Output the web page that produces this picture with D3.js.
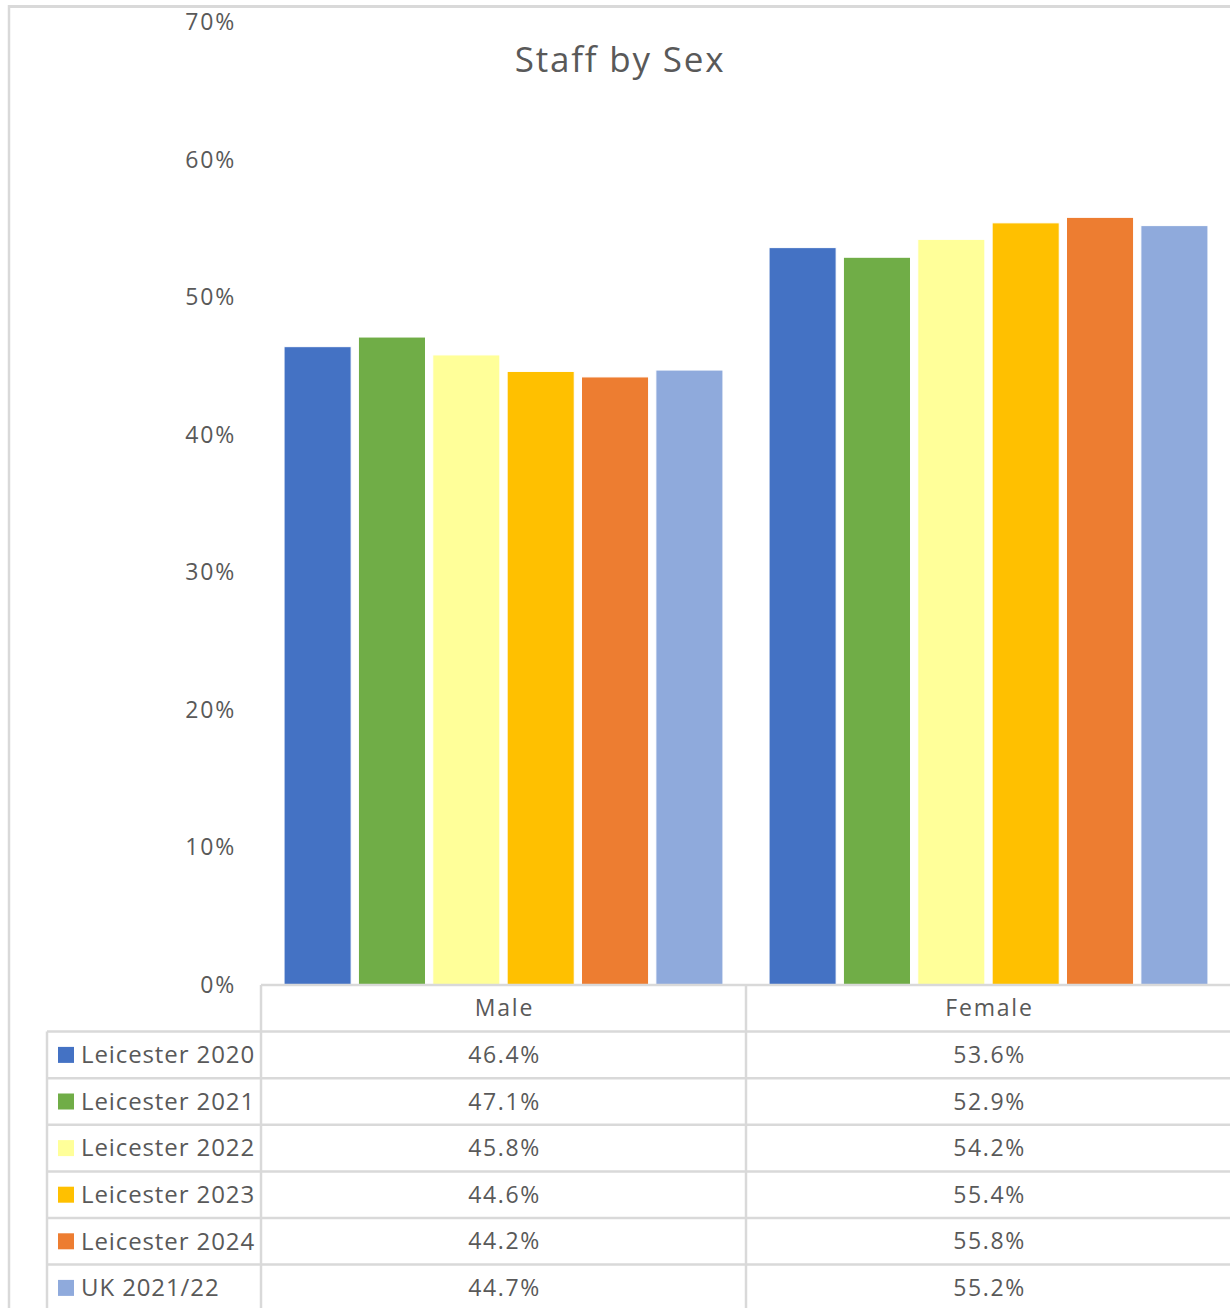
<!DOCTYPE html>
<html>
<head>
<meta charset="utf-8">
<script src="https://cdn.jsdelivr.net/npm/d3@7"></script>
<style>
  body { margin: 0; background: #fff; }
  svg text { font-family: "Open Sans", "Noto Sans", sans-serif; fill: #595959; }
</style>
</head>
<body>
<div id="chart"></div>
<script>
// data
var categories = ["Male", "Female"];
var seriesNames = ["Leicester 2020", "Leicester 2021", "Leicester 2022", "Leicester 2023", "Leicester 2024", "UK 2021/22"];
var maleValues = [46.4, 47.1, 45.8, 44.6, 44.2, 44.7];
var femaleValues = [53.6, 52.9, 54.2, 55.4, 55.8, 55.2];
var seriesColors = ["#4472C4", "#70AD47", "#FFFF99", "#FFC000", "#ED7D31", "#8FAADC"];
var yTicks = [0, 10, 20, 30, 40, 50, 60, 70];

var w = 1230, h = 1308;
var plotLeft = 261, plotRight = 1231;
var plotTop = 22, plotBottom = 985;
var rowH = 46.6;
var gridColor = "#d9d9d9";

var svg = d3.select("#chart").append("svg")
  .attr("width", w)
  .attr("height", h);

// build the rows: one per series, values by category
var rows = seriesNames.map(function(name, i) {
  return { name: name, color: seriesColors[i], values: [maleValues[i], femaleValues[i]] };
});

var x0 = d3.scaleBand().domain(categories).range([plotLeft, plotRight]).padding(0);
var x1 = d3.scaleBand().domain(seriesNames).range([0, x0.bandwidth()])
  .paddingInner(0.098).paddingOuter(0.31);
var y = d3.scaleLinear().domain([0, 70]).range([plotBottom, plotTop]);

// outer chart frame (only top and left visible)
svg.append("line")
  .attr("x1", 8).attr("x2", w).attr("y1", 6.5).attr("y2", 6.5)
  .attr("stroke", gridColor).attr("stroke-width", 3);
svg.append("line")
  .attr("x1", 9).attr("x2", 9).attr("y1", 5).attr("y2", h)
  .attr("stroke", gridColor).attr("stroke-width", 2.5);

// title
svg.append("text")
  .attr("x", 620)
  .attr("y", 72)
  .attr("text-anchor", "middle")
  .attr("font-size", 35)
  .attr("letter-spacing", 1.8)
  .text("Staff by Sex");

// y axis labels
svg.selectAll(".ytick")
  .data(yTicks)
  .enter()
  .append("text")
  .attr("class", "ytick")
  .attr("x", 236)
  .attr("y", function(d) { return y(d); })
  .attr("dy", "0.35em")
  .attr("text-anchor", "end")
  .attr("font-size", 23)
  .attr("letter-spacing", 1.8)
  .text(function(d) { return d + "%"; });

// bars
var groups = svg.selectAll(".cat")
  .data(categories)
  .enter()
  .append("g")
  .attr("class", "cat")
  .attr("transform", function(d) { return "translate(" + x0(d) + ",0)"; });

groups.selectAll("rect")
  .data(function(c, ci) {
    return rows.map(function(r) { return { name: r.name, color: r.color, value: r.values[ci] }; });
  })
  .enter()
  .append("rect")
  .attr("x", function(d) { return x1(d.name); })
  .attr("y", function(d) { return y(d.value); })
  .attr("width", x1.bandwidth())
  .attr("height", function(d) { return plotBottom - y(d.value); })
  .attr("fill", function(d) { return d.color; })
  .attr("stroke", "#fff")
  .attr("stroke-width", 1);

// data table below the axis
var table = svg.append("g").attr("class", "datatable");
var legendLeft = 47;

// horizontal lines
var hLines = d3.range(seriesNames.length + 1).map(function(i) { return plotBottom + i * rowH; });
table.selectAll(".hline")
  .data(hLines)
  .enter()
  .append("line")
  .attr("x1", function(d, i) { return i == 0 ? plotLeft : legendLeft; })
  .attr("x2", w)
  .attr("y1", function(d) { return d; })
  .attr("y2", function(d) { return d; })
  .attr("stroke", gridColor)
  .attr("stroke-width", 2.5);

// vertical lines
table.append("line")
  .attr("x1", legendLeft).attr("x2", legendLeft)
  .attr("y1", plotBottom + rowH).attr("y2", h)
  .attr("stroke", gridColor).attr("stroke-width", 2.5);
table.selectAll(".vline")
  .data(categories)
  .enter()
  .append("line")
  .attr("x1", function(d) { return x0(d); })
  .attr("x2", function(d) { return x0(d); })
  .attr("y1", plotBottom)
  .attr("y2", h)
  .attr("stroke", gridColor)
  .attr("stroke-width", 2.5);

// header row
table.selectAll(".colhead")
  .data(categories)
  .enter()
  .append("text")
  .attr("x", function(d) { return x0(d) + x0.bandwidth() / 2 + 1; })
  .attr("y", plotBottom + rowH / 2)
  .attr("dy", "0.35em")
  .attr("text-anchor", "middle")
  .attr("font-size", 23)
  .attr("letter-spacing", 1.8)
  .text(function(d) { return d; });

// series rows
var rowG = table.selectAll(".row")
  .data(rows)
  .enter()
  .append("g")
  .attr("class", "row")
  .attr("transform", function(d, i) { return "translate(0," + (plotBottom + (i + 1) * rowH) + ")"; });

rowG.append("rect")
  .attr("x", 58)
  .attr("y", rowH / 2 - 8)
  .attr("width", 16)
  .attr("height", 16)
  .attr("fill", function(d) { return d.color; });

rowG.append("text")
  .attr("x", 81)
  .attr("y", rowH / 2)
  .attr("dy", "0.35em")
  .attr("font-size", 24)
  .attr("letter-spacing", 0.9)
  .text(function(d) { return d.name; });

rowG.selectAll(".val")
  .data(function(d) { return d.values; })
  .enter()
  .append("text")
  .attr("class", "val")
  .attr("x", function(d, i) { return x0(categories[i]) + x0.bandwidth() / 2 + 1; })
  .attr("y", rowH / 2)
  .attr("dy", "0.35em")
  .attr("text-anchor", "middle")
  .attr("font-size", 23)
  .attr("letter-spacing", 1.6)
  .text(function(d) { return d3.format(".1f")(d) + "%"; });
</script>
</body>
</html>
